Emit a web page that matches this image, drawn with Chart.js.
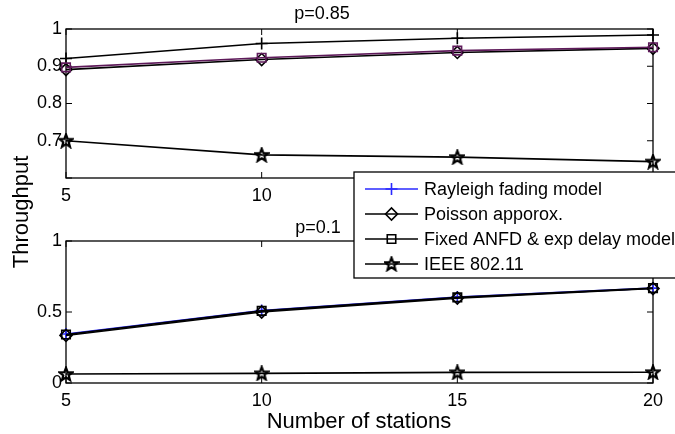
<!DOCTYPE html>
<html>
<head>
<meta charset="utf-8">
<script src="https://cdn.jsdelivr.net/npm/chart.js@4/dist/chart.umd.min.js"></script>
<style>
  body { margin: 0; background: #fff; }
  #wrap { position: relative; width: 675px; height: 434px; overflow: hidden; }
  #wrap canvas { position: absolute; left: 0; top: 0; }
</style>
</head>
<body>
<div id="wrap">
  <canvas id="topChart" width="675" height="434"></canvas>
  <canvas id="bottomChart" width="675" height="434"></canvas>
</div>
<script>
// number of stations
const stations = [5, 10, 15, 20];

// p = 0.85
const rayleighHigh = [0.921, 0.961, 0.975, 0.984];
const poissonHigh = [0.891, 0.918, 0.937, 0.948];
const fixedHigh = [0.897, 0.923, 0.942, 0.951];
const ieeeHigh = [0.700, 0.662, 0.656, 0.644];

// p = 0.1
const rayleighLow = [0.345, 0.510, 0.605, 0.668];
const poissonLow = [0.335, 0.500, 0.598, 0.665];
const fixedLow = [0.342, 0.508, 0.603, 0.668];
const ieeeLow = [0.063, 0.068, 0.075, 0.076];

const seriesNames = ['Rayleigh fading model', 'Poisson apporox.', 'Fixed ANFD & exp delay model', 'IEEE 802.11'];
const highTicks = [0.6, 0.7, 0.8, 0.9, 1];
const lowTicks = [0, 0.5, 1];

const FONT = '"Liberation Sans", Arial, Helvetica, sans-serif';

// hollow five point star, matlab style
function starMarker(size) {
    const c = document.createElement('canvas');
    c.width = size;
    c.height = size;
    const g = c.getContext('2d');
    const cx = size / 2, cy = size / 2 + 0.5;
    const ro = size / 2 - 1.2, ri = ro * 0.42;
    g.beginPath();
    for (let i = 0; i < 10; i++) {
        const r = i % 2 === 0 ? ro : ri;
        const a = -Math.PI / 2 + i * Math.PI / 5;
        g.lineTo(cx + r * Math.cos(a), cy + r * Math.sin(a));
    }
    g.closePath();
    g.lineWidth = 2.2;
    g.lineJoin = 'miter';
    g.strokeStyle = '#000';
    g.stroke();
    return c;
}
const star = starMarker(16);

function toPoints(values) {
    return stations.map((s, i) => ({ x: s, y: values[i] }));
}

function dataset(label, values, color, style, radius, order) {
    return {
        label: label,
        data: toPoints(values),
        order: order,
        borderColor: color,
        backgroundColor: 'transparent',
        borderWidth: 1.6,
        pointStyle: style,
        pointRadius: radius,
        pointBorderColor: color,
        pointBackgroundColor: 'transparent',
        pointBorderWidth: 1.6,
        clip: false,
    };
}

// box, inward ticks and free text
const matlabAxes = {
    id: 'matlabAxes',
    beforeDatasetsDraw(chart, args, opts) {
        const ctx = chart.ctx;
        const a = chart.chartArea;
        const xs = chart.scales.x, ys = chart.scales.y;
        ctx.save();
        ctx.strokeStyle = '#000';
        ctx.lineWidth = 1.3;
        ctx.strokeRect(a.left, a.top, a.right - a.left, a.bottom - a.top);
        ctx.lineWidth = 1;
        const len = 6;
        xs.ticks.forEach(t => {
            const px = xs.getPixelForValue(t.value);
            ctx.beginPath();
            ctx.moveTo(px, a.bottom); ctx.lineTo(px, a.bottom - len);
            ctx.moveTo(px, a.top); ctx.lineTo(px, a.top + len);
            ctx.stroke();
        });
        ys.ticks.forEach(t => {
            const py = ys.getPixelForValue(t.value);
            ctx.beginPath();
            ctx.moveTo(a.left, py); ctx.lineTo(a.left + len, py);
            ctx.moveTo(a.right, py); ctx.lineTo(a.right - len, py);
            ctx.stroke();
        });
        ctx.restore();
    },
    afterDraw(chart, args, opts) {
        const ctx = chart.ctx;
        ctx.save();
        ctx.fillStyle = '#000';
        ctx.textAlign = 'center';
        ctx.textBaseline = 'middle';
        ctx.font = '18px ' + FONT;
        ctx.fillText(opts.title, opts.titleX, opts.titleY);
        if (opts.xLabel) {
            ctx.font = '22px ' + FONT;
            ctx.fillText(opts.xLabel, opts.xLabelX, opts.xLabelY);
            ctx.translate(opts.yLabelX, opts.yLabelY);
            ctx.rotate(-Math.PI / 2);
            ctx.fillText(opts.yLabel, 0, 0);
        }
        ctx.restore();
    }
};

// legend sitting over both panels
const boxLegend = {
    id: 'boxLegend',
    afterDraw(chart, args, opts) {
        if (!opts.show) return;
        const ctx = chart.ctx;
        ctx.save();
        ctx.fillStyle = '#fff';
        ctx.fillRect(opts.left, opts.top, opts.width, opts.height);
        ctx.strokeStyle = '#000';
        ctx.lineWidth = 1.3;
        ctx.strokeRect(opts.left, opts.top, opts.width, opts.height);
        ctx.font = '18px ' + FONT;
        ctx.textBaseline = 'middle';
        ctx.textAlign = 'left';
        chart.data.datasets.forEach((ds, i) => {
            const y = opts.top + opts.firstRow + i * opts.rowGap;
            const x0 = opts.left + 11, x1 = opts.left + 64;
            ctx.strokeStyle = ds.borderColor;
            ctx.lineWidth = ds.borderWidth;
            ctx.beginPath();
            ctx.moveTo(x0, y); ctx.lineTo(x1, y);
            ctx.stroke();
            ctx.fillStyle = 'transparent';
            Chart.helpers.drawPoint(ctx, {
                pointStyle: ds.pointStyle,
                radius: ds.pointRadius,
                borderWidth: ds.pointBorderWidth,
                rotation: 0
            }, (x0 + x1) / 2, y);
            ctx.fillStyle = '#000';
            ctx.fillText(ds.label, opts.left + 70, y + 1);
        });
        ctx.restore();
    }
};

function fixedWidth(w) { return s => { s.width = w; }; }
function fixedHeight(h) { return s => { s.height = h; }; }

function makeOptions(yMin, yMax, yStep, padTop, padBottom, axesOpts, legendOpts) {
    return {
        responsive: false,
        animation: false,
        layout: { padding: { left: 0, right: 22, top: padTop, bottom: padBottom } },
        plugins: {
            legend: { display: false },
            tooltip: { enabled: false },
            matlabAxes: axesOpts,
            boxLegend: legendOpts,
        },
        scales: {
            x: {
                type: 'linear',
                min: 5,
                max: 20,
                afterFit: fixedHeight(30),
                grid: { display: false, drawTicks: false },
                border: { display: false },
                ticks: {
                    stepSize: 5,
                    padding: 7,
                    color: '#000',
                    font: { family: FONT, size: 18 },
                },
            },
            y: {
                min: yMin,
                max: yMax,
                afterFit: fixedWidth(66),
                grid: { display: false, drawTicks: false },
                border: { display: false },
                ticks: {
                    stepSize: yStep,
                    padding: 4,
                    color: '#000',
                    font: { family: FONT, size: 18 },
                    callback: function(v) {
                        if (yMin === 0.6 && Math.abs(v - 0.6) < 1e-6) return '';
                        return String(Number(v.toFixed(1)));
                    },
                },
            },
        },
    };
}

// p = 0.85 panel
new Chart(document.getElementById('topChart'), {
    type: 'line',
    data: {
        datasets: [
            dataset(seriesNames[0], rayleighHigh, '#000000', 'cross', 6, 3),
            dataset(seriesNames[1], poissonHigh, '#000000', 'rectRot', 6, 2),
            dataset(seriesNames[2], fixedHigh, '#5e1a5a', 'rect', 6, 1),
            dataset(seriesNames[3], ieeeHigh, '#000000', star, 7, 0),
        ],
    },
    options: makeOptions(highTicks[0], highTicks[highTicks.length - 1], 0.1, 29, 434 - 178 - 30,
        { title: 'p=0.85', titleX: 322, titleY: 14 },
        { show: false }),
    plugins: [matlabAxes, boxLegend],
});

// p = 0.1 panel
new Chart(document.getElementById('bottomChart'), {
    type: 'line',
    data: {
        datasets: [
            dataset(seriesNames[0], rayleighLow, '#2a2aff', 'cross', 6, 3),
            dataset(seriesNames[1], poissonLow, '#000000', 'rectRot', 6, 2),
            dataset(seriesNames[2], fixedLow, '#000000', 'rect', 6, 1),
            dataset(seriesNames[3], ieeeLow, '#000000', star, 7, 0),
        ],
    },
    options: makeOptions(lowTicks[0], lowTicks[lowTicks.length - 1], 0.5, 241, 434 - 383 - 30,
        {
            title: 'p=0.1', titleX: 318, titleY: 228,
            xLabel: 'Number of stations', xLabelX: 359, xLabelY: 422,
            yLabel: 'Throughput', yLabelX: 22, yLabelY: 212,
        },
        { show: true, left: 354, top: 172, width: 330, height: 106, firstRow: 17, rowGap: 25 }),
    plugins: [matlabAxes, boxLegend],
});
</script>
</body>
</html>
